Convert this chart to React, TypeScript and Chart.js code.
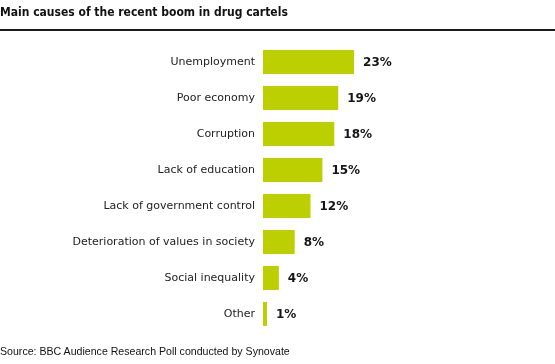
import React, { useEffect, useRef } from "react";
import { Chart, registerables } from "chart.js";

Chart.register(...registerables);

const titleText = "Main causes of the recent boom in drug cartels";
const sourceText = "Source: BBC Audience Research Poll conducted by Synovate";
const categories = [
  "Unemployment",
  "Poor economy",
  "Corruption",
  "Lack of education",
  "Lack of government control",
  "Deterioration of values in society",
  "Social inequality",
  "Other",
];
const values = [23, 19, 18, 15, 12, 8, 4, 1];

const valueLabels = {
  id: "valueLabels",
  afterDatasetsDraw(chart: any) {
    const ctx = chart.ctx;
    const meta = chart.getDatasetMeta(0);
    ctx.save();
    ctx.font = "bold 12px 'DejaVu Sans', Verdana, sans-serif";
    ctx.fillStyle = "#151515";
    ctx.textBaseline = "middle";
    ctx.textAlign = "left";
    meta.data.forEach((bar: any, i: number) => {
      ctx.fillText(values[i] + "%", bar.x + 9, bar.y + 1);
    });
    ctx.restore();
  },
};

export default function App() {
  const ref = useRef<HTMLCanvasElement>(null);
  useEffect(() => {
    document.body.style.margin = "0";
    const chart = new Chart(ref.current!, {
      type: "bar",
      data: {
        labels: categories,
        datasets: [
          {
            data: values,
            backgroundColor: "#bccf00",
            barPercentage: 24 / 36,
            categoryPercentage: 1,
          },
        ],
      },
      options: {
        indexAxis: "y",
        animation: false,
        responsive: false,
        maintainAspectRatio: false,
        layout: { padding: { top: 44, bottom: 32, right: 94, left: 0 } },
        plugins: { legend: { display: false }, tooltip: { enabled: false } },
        scales: {
          x: { display: false, min: 0, max: 50 },
          y: {
            grid: { display: false },
            border: { display: false },
            ticks: {
              color: "#222222",
              padding: 0,
              font: { family: "'DejaVu Sans', Verdana, sans-serif", size: 11 },
            },
            afterFit(s: any) {
              s.width = 263;
            },
          },
        },
      },
      plugins: [valueLabels],
    });
    return () => chart.destroy();
  }, []);

  return (
    <div style={{ position: "relative", width: 555, height: 364, background: "#fff", overflow: "hidden" }}>
      <canvas ref={ref} width={555} height={364} style={{ position: "absolute", left: 0, top: 0 }} />
      <div
        style={{
          position: "absolute",
          left: 0,
          top: 5,
          fontFamily: "'DejaVu Sans Condensed', 'DejaVu Sans', Tahoma, sans-serif",
          fontWeight: "bold",
          fontSize: 12,
          color: "#111",
          whiteSpace: "nowrap",
        }}
      >
        {titleText}
      </div>
      <div style={{ position: "absolute", left: 0, top: 29, width: 555, height: 2, background: "#1a1a1a" }} />
      <div
        style={{
          position: "absolute",
          left: 0,
          top: 345,
          fontFamily: "'Liberation Sans', Arial, sans-serif",
          fontSize: 10.6,
          color: "#111",
          whiteSpace: "nowrap",
        }}
      >
        {sourceText}
      </div>
    </div>
  );
}
